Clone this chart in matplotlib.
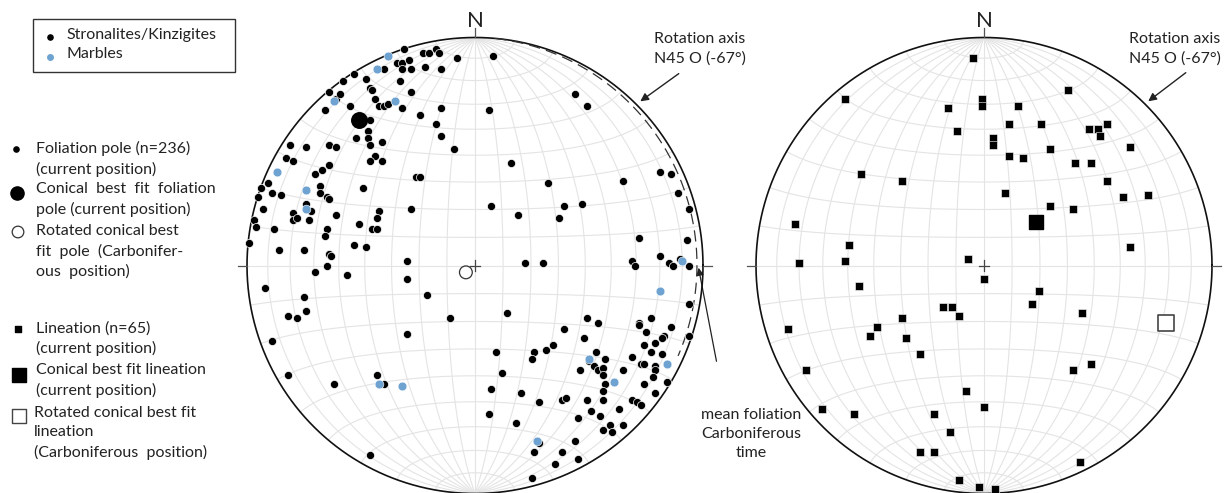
import numpy as np
import matplotlib
matplotlib.use("Agg")
import matplotlib.pyplot as plt
from matplotlib.patches import Rectangle

plt.rcParams['font.family'] = ['Lato', 'DejaVu Sans']

# ---------------- data (equal-area net coordinates, primitive radius = 100) -------------
fol_x = [-31, -23, -20, -17, -16, -8, -34, -32, -29, -32, -28, -22, -15, -40, -53, -48, -33, -58, -46, -45,
         -28, -64, -61, -59, -44, -42, -40, -38, -32, -55, -66, -24, -15, 6, -48, -46, -47, -17, -15, -52,
         -47, -46, -41, -81, -74, -64, -61, -9, -83, -80, -44, -46, -41, -64, -70, -67, -26, -24, -91, -94,
         -95, -68, -68, -49, -89, -85, -65, -64, -74, -72, -93, -28, 7, -80, -80, -78, -73, -61, -42, -43,
         -97, -96, -51, -88, -65, -66, -45, -43, -99, -86, -75, -53, -48, -64, -63, -30, -65, -70, -56, -30,
         -92, -75, -21, -82, -78, -74, -11, -89, -30, -82, -62, -43, -40, -46, 6, 8, 44, 49, 16, 32,
         19, 39, 47, 37, 65, 81, 86, 89, 94, 72, 93, 22, 30, 69, 70, 81, 85, 87, 90, 94,
         94, 14, 49, 54, 72, 72, 77, 39, 48, 75, 86, 83, 82, 94, 79, 74, 34, 31, 26, 25,
         9, 53, 77, 82, 50, 52, 54, 57, 56, 69, 73, 74, 79, 79, 46, 56, 65, 78, 12, 57,
         84, 74, 7, 20, 56, 38, 40, 28, 49, 56, 69, 71, 73, 79, 51, 55, 63, 18, 45, 59,
         56, 60, 65, 28, 26, 44, 38, 35, 45, 25]
fol_y = [95, 93, 93, 95, 93, 91, 89, 89, 90, 86, 86, 87, 86, 86, 84, 82, 81, 81, 78, 77,
         76, 76, 73, 75, 73, 70, 70, 71, 69, 70, 68, 66, 69, 68, 64, 64, 59, 62, 57, 56,
         56, 53, 54, 53, 52, 53, 52, 51, 47, 46, 48, 46, 46, 44, 40, 42, 39, 39, 36, 34,
         30, 35, 32, 34, 32, 31, 30, 29, 27, 24, 25, 25, 26, 23, 20, 21, 20, 22, 24, 21,
         20, 17, 18, 16, 16, 13, 16, 16, 10, 7, 7, 9, 8, 5, 4, 2, 0, -3, -4, -6,
         -10, -14, -13, -22, -23, -20, -23, -33, -30, -48, -52, -48, -52, -83, -65, 92, 75, 70, 45, 36,
         22, 26, 27, 21, 37, 41, 40, 32, 25, 12, 11, 1, 1, 2, 0, 4, 1, 0, 3, 0,
         -17, -21, -23, -25, -25, -26, -23, -28, -32, -29, -27, -31, -32, -31, -34, -35, -35, -37, -38, -41,
         -38, -38, -38, -39, -42, -44, -46, -41, -45, -40, -43, -43, -44, -46, -46, -48, -46, -49, -47, -52,
         -51, -52, -54, -56, -55, -59, -58, -60, -59, -59, -59, -60, -61, -56, -64, -66, -63, -69, -67, -70,
         -72, -73, -70, -78, -82, -77, -82, -87, -85, -93]
marble_x = [-38, -43, -62, -35, -87, -74, -74, -42, -32, 91, 81, 50, 84, 61, 27]
marble_y = [92, 86, 72, 72, 41, 33, 25, -52, -53, 2, -11, -41, -43, -51, -77]
fol_best = (-51, 64)        # conical best fit foliation pole (current position)
fol_rot = (-4, -3)          # rotated conical best fit pole (Carboniferous)
mean_fol_dipdir, mean_fol_dip = 95, 3   # mean foliation, Carboniferous time

lin_x = [-5, -61, -1, -1, -16, 11, -12, 4, 4, 11, -54, -36, 9, -83, -59, 37, 15, 25, 46, 50,
         54, 51, 64, 29, 17, 40, 47, 54, 61, 72, 29, 39, 64, -81, -61, -7, 0, -55, -18, -14,
         -11, -36, -86, -47, -50, -34, -28, -78, -8, 0, -71, -57, -22, -15, -28, -22, -11, -2, 5, 24,
         21, 43, 47, 39, 42]
lin_y = [91, 73, 73, 70, 69, 62, 59, 56, 53, 48, 40, 37, 32, 18, 9, 77, 70, 62, 60, 60,
         62, 57, 52, 51, 47, 45, 45, 37, 30, 31, 26, 25, 8, 1, 2, 3, -6, -9, -18, -18,
         -22, -23, -28, -27, -31, -32, -39, -46, -55, -62, -63, -65, -65, -73, -82, -82, -94, -97, -98, -11,
         -17, -21, -43, -46, -86]
lin_best = (23, 19)
lin_rot = (80, -25)

legend_top = ["Stronalites/Kinzigites", "Marbles"]
legend_fol = ["Foliation pole (n=236)\n(current position)",
              "Conical  best  fit  foliation\npole (current position)",
              "Rotated conical best\nfit  pole  (Carbonifer-\nous  position)"]
legend_lin = ["Lineation (n=65)\n(current position)",
              "Conical best fit lineation\n(current position)",
              "Rotated conical best fit\nlineation\n(Carboniferous  position)"]
rot_axis_label = "Rotation axis\nN45 O (-67°)"
mean_fol_label = "mean foliation\nCarboniferous\ntime"

BLUE = "#6ea3d1"
GRID = "#e4e4e4"
TXT = "#222222"
FS = 11.5
LS = 1.47

W, H = 1225, 493
fig = plt.figure(figsize=(W / 100, H / 100), dpi=100)

# background axes in pixel units for annotations / legend
bg = fig.add_axes([0, 0, 1, 1])
bg.set_xlim(0, W)
bg.set_ylim(H, 0)
bg.axis("off")


def proj(e, n, d):
    e, n, d = np.asarray(e, float), np.asarray(n, float), np.asarray(d, float)
    h = np.hypot(e, n)
    h = np.where(h == 0, 1, h)
    r = np.sqrt(np.clip(1 - d, 0, None))
    return 100 * r * e / h, 100 * r * n / h


def great_circle(dipdir, dip, npts=300):
    t = np.linspace(0, np.pi, npts)
    dd, dp = np.radians(dipdir), np.radians(dip)
    s = np.array([np.sin(dd - np.pi / 2), np.cos(dd - np.pi / 2), 0.0])
    dv = np.array([np.sin(dd) * np.cos(dp), np.cos(dd) * np.cos(dp), np.sin(dp)])
    v = np.outer(np.cos(t), s) + np.outer(np.sin(t), dv)
    return proj(v[:, 0], v[:, 1], v[:, 2])


def make_net(cx, cy, R=228):
    ax = fig.add_axes([(cx - R) / W, 1 - (cy + R) / H, 2 * R / W, 2 * R / H])
    ax.set_xlim(-100, 100)
    ax.set_ylim(-100, 100)
    ax.set_aspect("equal")
    ax.axis("off")
    # great circles (N-S strike)
    for dip in range(10, 90, 10):
        for dd in (90, 270):
            x, y = great_circle(dd, dip)
            ax.plot(x, y, color=GRID, lw=0.8, zorder=1)
    # small circles about N-S axis
    phi = np.linspace(0, np.pi, 300)
    for a in range(10, 180, 10):
        if a == 90:
            continue
        ar = np.radians(a)
        x, y = proj(np.sin(ar) * np.cos(phi), np.full_like(phi, np.cos(ar)), np.sin(ar) * np.sin(phi))
        ax.plot(x, y, color=GRID, lw=0.8, zorder=1)
    ax.plot([-100, 100], [0, 0], color=GRID, lw=0.8, zorder=1)
    ax.plot([0, 0], [-100, 100], color=GRID, lw=0.8, zorder=1)
    th = np.linspace(0, 2 * np.pi, 600)
    ax.plot(100 * np.cos(th), 100 * np.sin(th), color="#111111", lw=1.2, zorder=5, clip_on=False)
    # ticks and centre cross
    kw = dict(color="#555555", lw=0.9, clip_on=False, zorder=5)
    ax.plot([0, 0], [100, 104], **kw)
    ax.plot([-104, -100], [0, 0], **kw)
    ax.plot([100, 104], [0, 0], **kw)
    ax.plot([-2.2, 2.2], [0, 0], color="#444444", lw=0.9, zorder=6)
    ax.plot([0, 0], [-2.2, 2.2], color="#444444", lw=0.9, zorder=6)
    ax.text(0, 103, "N", ha="center", va="bottom", fontsize=16, color=TXT)
    return ax


# ---------------- left net : foliation poles ----------------
axL = make_net(475, 265.5)
axL.scatter(fol_x, fol_y, s=34, color="black", edgecolors="white", linewidths=0.5, zorder=7, clip_on=False)
axL.scatter(marble_x, marble_y, s=40, color=BLUE, edgecolors="white", linewidths=0.4, zorder=8, clip_on=False)
axL.scatter([fol_best[0]], [fol_best[1]], s=125, color="black", zorder=9)
axL.scatter([fol_rot[0]], [fol_rot[1]], s=85, facecolors="none", edgecolors="#333333", linewidths=0.9, zorder=9)
gx, gy = great_circle(mean_fol_dipdir, mean_fol_dip)
sel = gy > -40
axL.plot(gx[sel], gy[sel], color="#333333", lw=0.9, ls=(0, (9, 5)), zorder=6)

# ---------------- right net : lineations ----------------
axR = make_net(984, 265.5)
axR.scatter(lin_x, lin_y, s=36, marker="s", color="black", edgecolors="white", linewidths=0.4, zorder=7, clip_on=False)
axR.scatter([lin_best[0]], [lin_best[1]], s=100, marker="s", color="black", zorder=9)
axR.scatter([lin_rot[0]], [lin_rot[1]], s=125, marker="s", facecolors="white", edgecolors="#444444",
            linewidths=1.2, zorder=9)

# ---------------- annotations ----------------
for tx, ax0, ay0, ax1, ay1 in [(654, 681, 72, 638, 103), (1129, 1188, 71, 1146, 103)]:
    bg.text(tx, 49, rot_axis_label, ha="left", va="center", fontsize=FS, color=TXT, linespacing=LS)
    bg.annotate("", xy=(ax1, ay1), xytext=(ax0, ay0),
                arrowprops=dict(arrowstyle="-|>", color="#222222", lw=1.0, mutation_scale=12))
bg.text(751, 434, mean_fol_label, ha="center", va="center", fontsize=FS, color=TXT, linespacing=LS)
bg.annotate("", xy=(698, 265), xytext=(717, 364),
            arrowprops=dict(arrowstyle="-|>", color="#222222", lw=0.9, mutation_scale=11))

# ---------------- legend box ----------------
bg.add_patch(Rectangle((32.5, 18.5), 202.5, 53, facecolor="white", edgecolor="#333333", lw=1.0))
bg.scatter([50], [36.5], s=14, color="black", zorder=5)
bg.scatter([50], [56.5], s=16, color=BLUE, zorder=5)
bg.text(66, 34.5, legend_top[0], va="center", ha="left", fontsize=FS, color=TXT)
bg.text(66, 54.5, legend_top[1], va="center", ha="left", fontsize=FS, color=TXT)

# ---------------- left explanation legend ----------------
tk = dict(va="top", ha="left", fontsize=FS, color=TXT, linespacing=LS)
bg.scatter([15.7], [149], s=14, color="black")
bg.text(36, 141, legend_fol[0], **tk)
bg.scatter([16.5], [193], s=90, color="black")
bg.text(36, 182, legend_fol[1], **tk)
bg.scatter([18], [232], s=70, facecolors="none", edgecolors="#333333", linewidths=0.9)
bg.text(36, 224, legend_fol[2], **tk)
bg.scatter([18.3], [328.5], s=18, marker="s", color="black")
bg.text(36, 321, legend_lin[0], **tk)
bg.scatter([19], [375], s=110, marker="s", color="black")
bg.text(36, 363, legend_lin[1], **tk)
bg.scatter([19], [416], s=110, marker="s", facecolors="white", edgecolors="#444444", linewidths=1.0)
bg.text(34, 406, legend_lin[2], **tk)

fig.savefig("out.png", dpi=100)
